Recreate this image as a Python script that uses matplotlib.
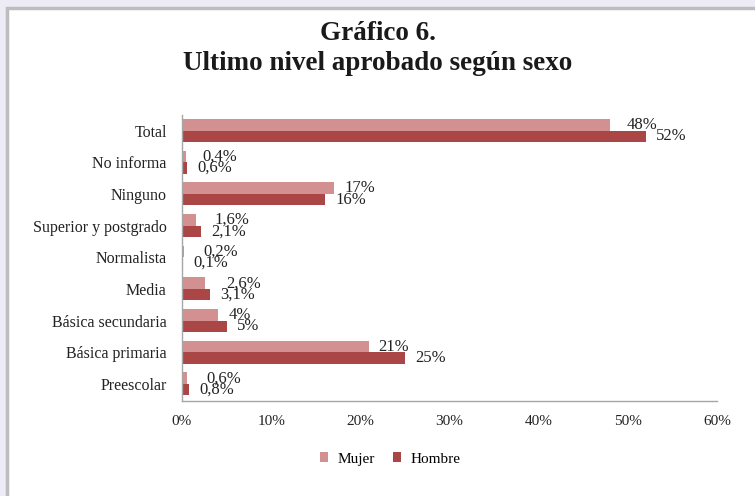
import matplotlib.pyplot as plt
import numpy as np
from matplotlib.patches import Rectangle

# data (top to bottom as shown)
categories = ['Total', 'No informa', 'Ninguno', 'Superior y postgrado',
              'Normalista', 'Media', 'Básica secundaria', 'Básica primaria',
              'Preescolar']
mujer = [48, 0.4, 17, 1.6, 0.2, 2.6, 4, 21, 0.6]
hombre = [52, 0.6, 16, 2.1, 0.1, 3.1, 5, 25, 0.8]
xticks = [0, 10, 20, 30, 40, 50, 60]

# horizontal gap (px) between the Mujer bar end and its label, as placed in the original
mujer_gap = [17, 17, 11, 18, 20, 21, 11, 9, 19]

c_mujer = '#D39090'
c_hombre = '#AA4646'

plt.rcParams['font.family'] = ['Liberation Serif', 'DejaVu Serif']

fig = plt.figure(figsize=(7.55, 4.96), dpi=100)
fig.patch.set_facecolor('#ECEBF6')

# white panel with grey border (runs off the right and bottom edges)
fig.patches.append(Rectangle((7 / 755, -0.05), 1.1, 1.05 - 8 / 496, transform=fig.transFigure,
                             facecolor='white', edgecolor='#BDBDBD', linewidth=2.5,
                             zorder=-5))

ax = fig.add_axes([182 / 755, 1 - 401 / 496, 535 / 755, 286 / 496])
ax.set_facecolor('none')

n = len(categories)
y = np.arange(n)[::-1]
h = 0.36

ax.barh(y + h / 2, mujer, height=h, color=c_mujer, label='Mujer')
ax.barh(y - h / 2, hombre, height=h, color=c_hombre, label='Hombre')


def fmt(v):
    s = ('%g' % v).replace('.', ',')
    return s + '%'


for yi, m, hh, gap in zip(y, mujer, hombre, mujer_gap):
    ax.annotate(fmt(m), (m, yi + h / 2), xytext=(gap * 0.72, 0), textcoords='offset points',
                ha='left', va='center', fontsize=12, color='#222222')
    ax.annotate(fmt(hh), (hh, yi - h / 2), xytext=(7.5, 0), textcoords='offset points',
                ha='left', va='center', fontsize=12, color='#222222')

ax.set_xlim(0, 60)
ax.set_ylim(-0.54, n - 1 + 0.49)
ax.set_xticks(xticks)
ax.set_xticklabels(['%d%%' % t for t in xticks], fontsize=11, color='#222222')
ax.set_yticks(y)
ax.set_yticklabels(categories, fontsize=11.5, color='#222222')
ax.tick_params(length=0)
ax.tick_params(axis='y', pad=11)
ax.tick_params(axis='x', pad=10)
for s in ['top', 'right']:
    ax.spines[s].set_visible(False)
for s in ['left', 'bottom']:
    ax.spines[s].set_color('#A6A6A6')
    ax.spines[s].set_linewidth(1)

fig.text(0.5, 1 - 33 / 496, 'Gráfico 6.', ha='center', va='center',
         fontsize=19.5, fontweight='bold', color='#1a1a1a')
fig.text(0.5, 1 - 64 / 496, 'Ultimo nivel aprobado según sexo', ha='center', va='center',
         fontsize=19.5, fontweight='bold', color='#1a1a1a')

leg = fig.legend(loc='center', bbox_to_anchor=(390 / 755, 1 - 459 / 496), ncol=2,
                 frameon=False, fontsize=11, handlelength=0.55, handleheight=0.55,
                 handletextpad=0.6, columnspacing=1.2)

fig.savefig('out.png', dpi=100, facecolor=fig.get_facecolor())
